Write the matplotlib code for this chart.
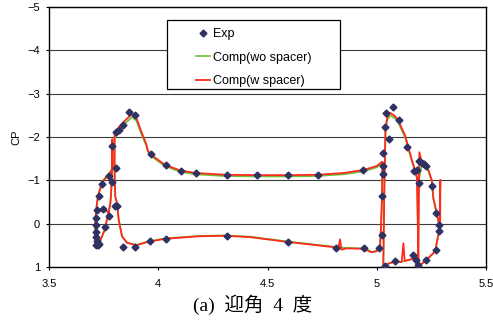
import numpy as np
import matplotlib
matplotlib.use("Agg")
import matplotlib.pyplot as plt
from matplotlib.patches import Rectangle

plt.rcParams['font.family'] = ['Liberation Sans', 'Noto Sans CJK JP']
plt.rcParams['axes.unicode_minus'] = True

# experiment (pressure taps)
exp_x = [3.717, 3.722, 3.727, 3.718, 3.717, 3.717, 3.717, 3.717, 3.718, 3.727,
         3.744, 3.776, 3.790, 3.749, 3.755, 3.775, 3.800, 3.813, 3.805, 3.790,
         3.805, 3.819, 3.840, 3.867, 3.895, 3.965, 4.034, 4.104, 4.173, 4.313,
         4.451, 4.592, 4.731, 4.939, 5.030, 5.030,
         3.837, 3.894, 3.964, 4.034, 4.313, 4.592, 4.815, 4.942, 5.010, 5.024, 5.024,
         5.036, 5.085, 5.164, 5.180, 5.042, 5.074, 5.101, 5.038, 5.054, 5.139, 5.030,
         5.189, 5.224, 5.270, 5.286, 5.286, 5.270, 5.252, 5.195, 5.170, 5.182,
         5.195, 5.205, 5.215, 5.224]
exp_cp = [0.50, 0.49, 0.47, 0.41, 0.31, 0.20, 0.02, -0.13, -0.32, -0.645,
          -0.92, -1.09, -0.96, -0.34, 0.08, -0.17, -0.41, -0.41, -1.28, -1.80,
          -2.12, -2.17, -2.28, -2.58, -2.51, -1.61, -1.345, -1.22, -1.16, -1.13,
          -1.12, -1.12, -1.12, -1.23, -1.34, -1.14,
          0.53, 0.53, 0.39, 0.35, 0.28, 0.42, 0.55, 0.57, 0.56, 0.255, -0.645,
          0.97, 0.855, 0.73, 0.83, -2.55, -2.70, -2.40, -2.24, -1.95, -1.78, -1.62,
          0.955, 0.83, 0.61, 0.17, 0.03, -0.25, -0.87, -0.95, -1.21, -1.25,
          -1.44, -1.41, -1.38, -1.33]

# Comp (w spacer) - red
w_slat_x = [3.727, 3.743, 3.755, 3.765, 3.773, 3.781, 3.785, 3.788, 3.790,
            3.792, 3.781, 3.765, 3.743, 3.724, 3.718, 3.712, 3.712, 3.716, 3.727]
w_slat_y = [0.49, 0.29, 0.14, -0.09, -0.26, -0.48, -0.78, -1.25, -1.95,
            -1.30, -1.17, -1.09, -0.94, -0.63, -0.40, -0.09, 0.22, 0.48, 0.51]
w_hook_x = [3.740, 3.750, 3.765, 3.773]
w_hook_y = [-0.31, -0.38, -0.28, -0.26]
w_main_x = [5.022, 5.000, 4.940, 4.850, 4.730, 4.600, 4.450, 4.300, 4.170, 4.100,
            4.030, 3.970, 3.953, 3.945, 3.922, 3.900, 3.877, 3.846, 3.823, 3.808,
            3.800, 3.800, 3.803, 3.811, 3.819, 3.834, 3.857, 3.900, 3.953, 4.030,
            4.190, 4.310, 4.420, 4.590, 4.800, 4.825, 4.832, 4.838, 4.862, 4.940,
            4.977, 4.997, 5.015, 5.020, 5.024, 5.026]
w_main_y = [-1.42, -1.33, -1.24, -1.17, -1.13, -1.12, -1.12, -1.13, -1.17, -1.23,
            -1.36, -1.58, -1.68, -1.84, -2.13, -2.44, -2.52, -2.37, -2.25, -2.15,
            -2.05, -1.25, -0.63, -0.48, -0.09, 0.29, 0.44, 0.50, 0.42, 0.35,
            0.29, 0.28, 0.31, 0.42, 0.54, 0.55, 0.36, 0.60, 0.57, 0.58,
            0.66, 0.64, 0.54, 0.00, -0.60, -1.42]
w_vane_x = [5.183, 5.175, 5.160, 5.144, 5.129, 5.114, 5.099, 5.084, 5.061, 5.048,
            5.040, 5.035, 5.030, 5.032, 5.084, 5.114, 5.122, 5.128, 5.167, 5.185]
w_vane_y = [-1.09, -1.25, -1.48, -1.78, -2.05, -2.21, -2.38, -2.48, -2.56, -2.45,
            -2.20, -0.90, 0.95, 0.96, 0.87, 0.885, 0.45, 0.86, 0.81, 0.82]
w_flap_x = [5.186, 5.190, 5.193, 5.195, 5.206, 5.236, 5.252, 5.259, 5.274, 5.286,
            5.288, 5.291, 5.290, 5.282, 5.267, 5.229, 5.190, 5.186]
w_flap_y = [-1.05, 0.99, -1.00, -1.65, -1.42, -1.25, -1.00, -0.59, -0.25, 0.02,
            0.05, -1.01, 0.20, 0.255, 0.64, 0.83, 0.99, -1.05]

# Comp (wo spacer) - green
wo_slat_x = [3.727, 3.743, 3.755, 3.765, 3.773, 3.781, 3.785, 3.788, 3.790,
             3.792, 3.781, 3.765, 3.743, 3.724, 3.718, 3.712, 3.712, 3.716, 3.727]
wo_slat_y = [0.49, 0.29, 0.14, -0.09, -0.26, -0.48, -0.78, -1.25, -1.90,
             -1.32, -1.20, -1.12, -0.97, -0.65, -0.41, -0.09, 0.22, 0.48, 0.51]
wo_main_x = [5.022, 5.000, 4.940, 4.850, 4.730, 4.600, 4.450, 4.300, 4.170, 4.100,
             4.030, 3.970, 3.953, 3.945, 3.922, 3.900, 3.880, 3.846, 3.823, 3.808,
             3.800, 3.800, 3.803, 3.811, 3.819, 3.834, 3.857, 3.900, 3.953, 4.030,
             4.190, 4.310, 4.420, 4.590, 4.800, 4.862, 4.940, 4.977, 4.997, 5.015,
             5.020, 5.024, 5.026]
wo_main_y = [-1.39, -1.30, -1.21, -1.14, -1.10, -1.09, -1.09, -1.10, -1.14, -1.20,
             -1.33, -1.55, -1.65, -1.80, -2.08, -2.38, -2.46, -2.30, -2.17, -2.05,
             -1.95, -1.25, -0.63, -0.48, -0.09, 0.29, 0.44, 0.49, 0.41, 0.34,
             0.28, 0.27, 0.30, 0.41, 0.53, 0.56, 0.57, 0.65, 0.63, 0.53,
             0.00, -0.60, -1.39]
wo_vane_x = [5.183, 5.175, 5.160, 5.144, 5.129, 5.114, 5.099, 5.084, 5.063, 5.048,
             5.040, 5.035, 5.030, 5.032, 5.084, 5.114, 5.167, 5.185]
wo_vane_y = [-1.06, -1.22, -1.45, -1.74, -2.00, -2.16, -2.33, -2.43, -2.50, -2.40,
             -2.15, -0.90, 0.95, 0.96, 0.87, 0.88, 0.81, 0.82]
wo_flap_x = [5.186, 5.190, 5.193, 5.206, 5.236, 5.252, 5.259, 5.274, 5.286,
             5.288, 5.282, 5.267, 5.229, 5.190]
wo_flap_y = [-1.02, 0.99, -1.00, -1.38, -1.22, -0.98, -0.58, -0.24, 0.02,
             0.10, 0.255, 0.64, 0.83, 0.99]

fig = plt.figure(figsize=(4.93, 3.2), dpi=100)
ax = fig.add_axes([0.0994, 0.1656, 0.8864, 0.8124])

green = '#66c23a'
red = '#ff2a1a'
for gx, gy in [(wo_slat_x, wo_slat_y), (wo_main_x, wo_main_y),
               (wo_vane_x, wo_vane_y), (wo_flap_x, wo_flap_y)]:
    ax.plot(gx, gy, color=green, lw=1.2, zorder=2)
for rx, ry in [(w_slat_x, w_slat_y), (w_hook_x, w_hook_y), (w_main_x, w_main_y),
               (w_vane_x, w_vane_y), (w_flap_x, w_flap_y)]:
    ax.plot(rx, ry, color=red, lw=1.3, zorder=2.5)
ax.plot(exp_x, exp_cp, linestyle='none', marker='D', markersize=3.5,
        color='#2f3163', zorder=3)

ax.set_xlim(3.5, 5.5)
ax.set_ylim(1, -5)
ax.set_xticks([3.5, 4, 4.5, 5, 5.5])
ax.set_xticklabels(['3.5', '4', '4.5', '5', '5.5'])
ax.set_yticks([1, 0, -1, -2, -3, -4, -5])
ax.yaxis.grid(True, color='#3a3a3a', lw=0.8)
ax.set_axisbelow(True)
ax.tick_params(direction='out', length=2.5, width=0.8, labelsize=8)
ax.tick_params(axis='x', pad=6)
ax.tick_params(axis='y', pad=4)
for s in ax.spines.values():
    s.set_linewidth(1.0)
ax.set_ylabel('CP', fontsize=8, labelpad=4)

# legend frame
ax.add_patch(Rectangle((0.270, 0.685), 0.396, 0.265, transform=ax.transAxes,
                       facecolor='white', edgecolor='black', lw=0.9, zorder=4))
h_exp, = ax.plot([], [], linestyle='none', marker='D', markersize=3.5, color='#2f3163')
h_wo, = ax.plot([], [], color=green, lw=1.2)
h_w, = ax.plot([], [], color=red, lw=1.3)
leg = ax.legend([h_exp, h_wo, h_w], ['Exp', 'Comp(wo spacer)', 'Comp(w spacer)'],
                loc='upper left', bbox_to_anchor=(0.336, 0.918), borderaxespad=0,
                borderpad=0, frameon=False, fontsize=9, numpoints=1,
                handlelength=1.15, handletextpad=0.25, labelspacing=0.92)
leg.set_zorder(5)

fig.text(0.512, 0.047, '(a)\u2002迎角\u20024\u2002度', ha='center', va='center',
         fontsize=14, family=['Liberation Serif', 'Noto Sans CJK JP'])

fig.savefig('out.png', dpi=100)
